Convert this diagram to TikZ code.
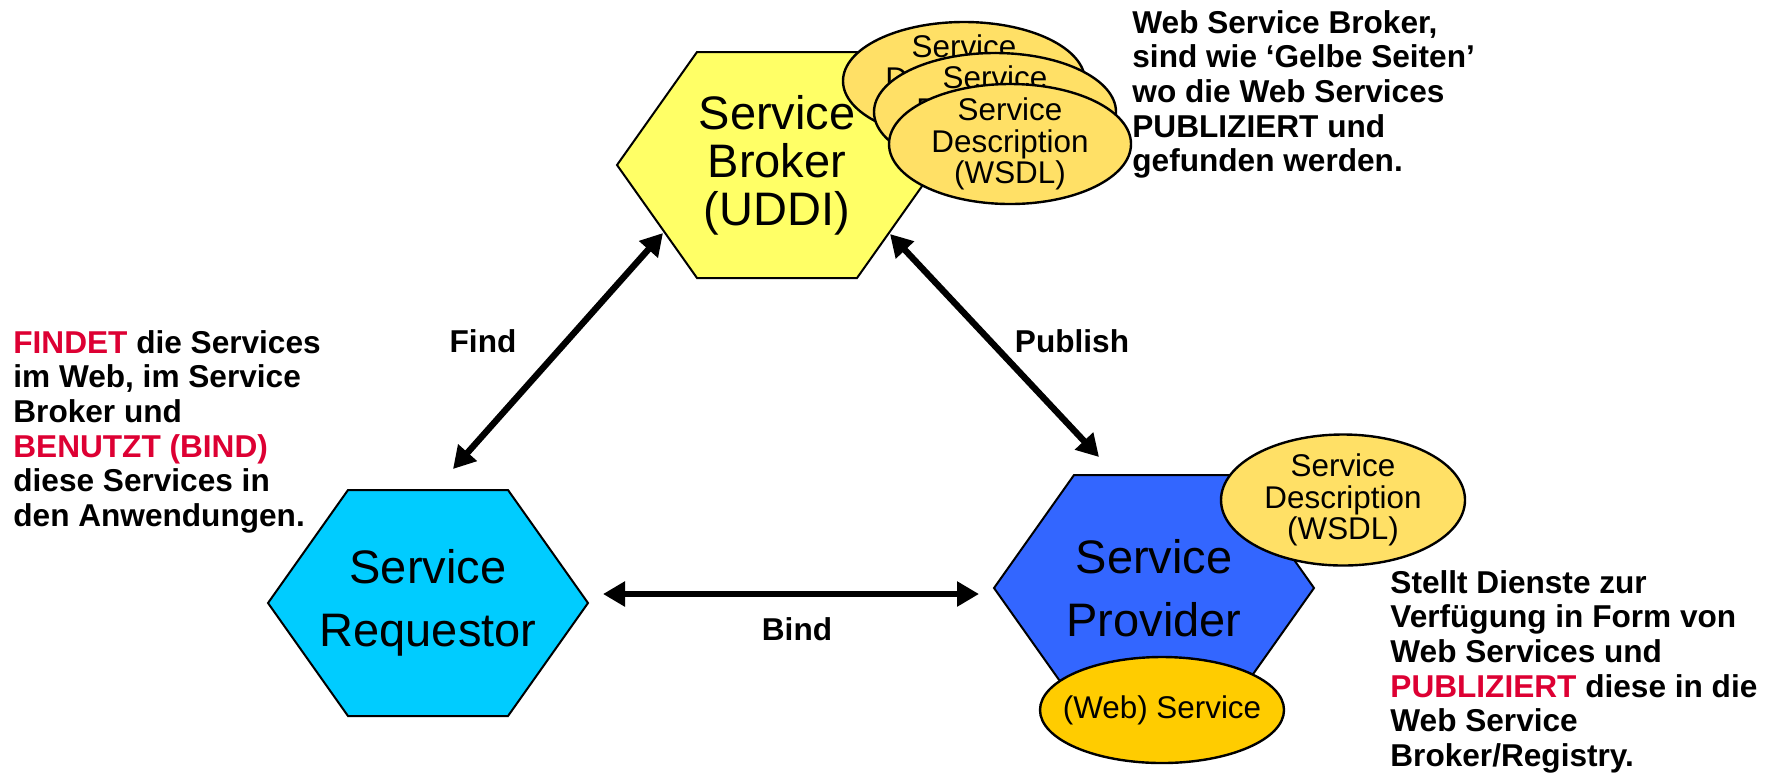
\documentclass[tikz,border=0pt]{standalone}
\usepackage{fontspec}
\setmainfont{Liberation Sans}
\usetikzlibrary{arrows.meta,shapes.geometric,positioning}

\definecolor{brokerfill}{RGB}{255,255,102}
\definecolor{reqfill}{RGB}{0,204,255}
\definecolor{provfill}{RGB}{51,102,255}
\definecolor{wsdlfill}{RGB}{255,224,102}
\definecolor{websvcfill}{RGB}{255,204,0}
\definecolor{keyred}{RGB}{221,0,51}

\begin{document}
\begin{tikzpicture}[
    x = 0.5pt, y = -0.5pt, % one unit per pixel, y grows downwards
    link/.style = {line width=3.2pt,
      {Triangle[length=11pt,width=12pt]}-{Triangle[length=11pt,width=12pt]}},
    lbl/.style = {inner sep=0pt, font=\fontsize{15.8pt}{17.3pt}\selectfont\bfseries}
    ]

    \tikzset{
    hexa/.style = {rectangle, minimum width=170pt, minimum height=120pt,
      inner sep=0pt, align=center, font=\fontsize{23.5pt}{31.5pt}\selectfont,
      path picture={\filldraw[fill=#1, draw=black, line width=1pt]
        ([shift={(-160,0)}]path picture bounding box.center) -- ++(80,-113)
        -- ++(160,0) -- ++(80,113) -- ++(-80,113) -- ++(-160,0) -- cycle;}},
    wsdl/.style = {ellipse, draw=black, line width=1.2pt, fill=#1,
      minimum width=121pt, inner xsep=0pt, inner ysep=-2.5pt, align=center,
      font=\fontsize{15.7pt}{15.9pt}\selectfont},
    note/.style = {lbl, anchor=north west, align=left}
    }

    \useasboundingbox (0,0) rectangle (1775,773);

    % the three roles
    \node[hexa=brokerfill, font=\fontsize{23.5pt}{24pt}\selectfont] (broker) at (777,165) {Service\\Broker\\(UDDI)};
    \node[hexa=reqfill] (req) at (428,603) {Service\\Requestor};
    \node[hexa=provfill] (prov) at (1154,588) {Service\\Provider};

    % stacked descriptions at the broker
    \node[wsdl=wsdlfill, minimum height=59pt] (desc1) at (964,81) {Service\\Description\\(WSDL)};
    \node[wsdl=wsdlfill, minimum height=59pt] (desc2) at ([shift={(31,31)}]desc1.center) {Service\\Description\\(WSDL)};
    \node[wsdl=wsdlfill, minimum height=60pt] (desc3) at ([shift={(15,32)}]desc2.center) {Service\\Description\\(WSDL)};

    % provider side
    \node[wsdl=wsdlfill, minimum width=122pt, minimum height=65.5pt] (provdesc) at (1343,500) {Service\\Description\\(WSDL)};
    \node[wsdl=websvcfill, minimum width=122pt, minimum height=53pt, inner xsep=-8pt] (websvc) at (1162,710) {(Web) Service};

    % arrows
    \draw[link] ([shift={(25,-134)}]req.center) -- ([shift={(-114,68)}]broker.center);
    \draw[link] ([shift={(113,69)}]broker.center) -- ([shift={(-55,-131)}]prov.center);
    \draw[link] ([shift={(175,-9)}]req.center) -- ([shift={(-175,6)}]prov.center);

    \node[lbl] (findlbl) at (483,341) {Find};
    \node[lbl] (publbl) at (1072,341) {Publish};
    \node[lbl] (bindlbl) at (797,629) {Bind};

    % side notes
    \node[note] (brokernote) at (1132,10) {Web Service Broker,\\sind wie ‘Gelbe Seiten’\\wo die Web Services\\PUBLIZIERT und\\gefunden werden.};
    \node[note] (reqnote) at (13,330) {{\color{keyred}FINDET} die Services\\im Web, im Service\\Broker und\\{\color{keyred}BENUTZT (BIND)}\\diese Services in\\den Anwendungen.};
    \node[note] (provnote) at (1390,570) {Stellt Dienste zur\\Verfügung in Form von\\Web Services und\\{\color{keyred}PUBLIZIERT} diese in die\\Web Service\\Broker/Registry.};
\end{tikzpicture}
\end{document}
